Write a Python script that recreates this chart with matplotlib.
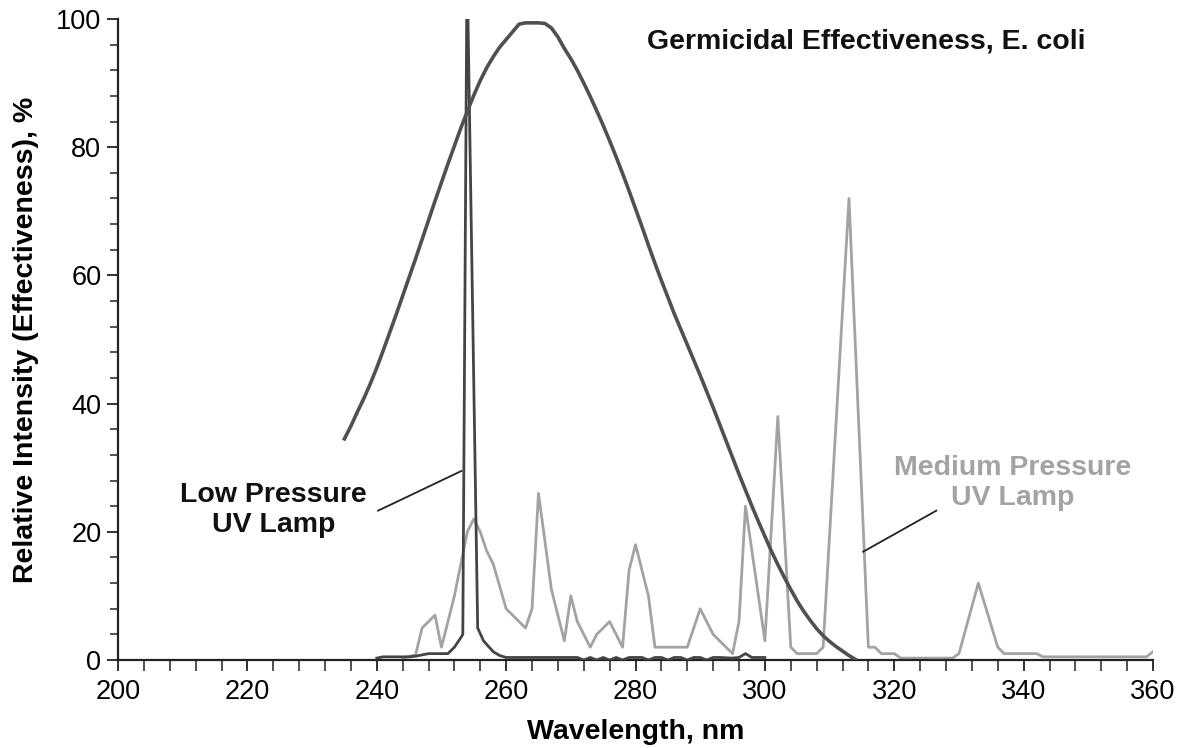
import numpy as np
import matplotlib.pyplot as plt
from matplotlib.ticker import MultipleLocator

plt.rcParams['font.family'] = ['Liberation Sans', 'DejaVu Sans']

# germicidal effectiveness for E. coli (%)
GERM_NM = list(range(235, 315))
GERM_VAL = [34.5, 36.5, 38.7, 40.8, 43.1, 45.6, 48.3, 51.1, 53.9, 56.8,
            59.7, 62.6, 65.6, 68.6, 71.6, 74.5, 77.4, 80.2, 83.0, 85.6,
            88.1, 90.4, 92.4, 94.1, 95.6, 96.8, 98.0, 99.2, 99.4, 99.4,
            99.4, 99.3, 98.6, 97.2, 95.4, 93.8, 92.0, 90.0, 87.9, 85.7,
            83.4, 81.0, 78.5, 75.9, 73.2, 70.4, 67.6, 64.7, 61.9, 59.2,
            56.6, 54.0, 51.6, 49.2, 46.8, 44.4, 41.9, 39.4, 36.8, 34.2,
            31.6, 29.0, 26.5, 24.0, 21.6, 19.3, 17.0, 14.9, 12.9, 11.0,
            9.2, 7.6, 6.2, 4.9, 3.8, 2.9, 2.1, 1.4, 0.7, 0.1]

# low pressure lamp spectrum
LOW_NM = [240, 241, 245, 246, 248, 251, 252, 253, 253.3, 253.9, 254.1, 255.6, 256.5,
          258, 259, 260, 271, 272, 273, 274, 275, 276, 277, 278, 279, 280, 281,
          282, 283, 284, 285, 286, 287, 288, 289, 290, 291, 292, 293, 295, 296,
          297, 298, 300]
LOW_VAL = [0.3, 0.5, 0.5, 0.6, 1.0, 1.0, 2.0, 3.5, 4.0, 100, 100, 5.0, 3.0,
           1.3, 0.7, 0.4, 0.4, 0.0, 0.4, 0.0, 0.4, 0.0, 0.4, 0.0, 0.4, 0.4, 0.4,
           0.0, 0.4, 0.4, 0.0, 0.4, 0.4, 0.0, 0.4, 0.4, 0.0, 0.4, 0.4, 0.3, 0.4,
           1.0, 0.4, 0.4]

# medium pressure lamp spectrum
MED_NM = [244, 246, 247, 249, 250, 252, 254, 255, 256, 257, 258, 260, 263, 264,
          265, 267, 269, 270, 271, 273, 274, 276, 278, 279, 280, 282, 283, 288,
          290, 292, 295, 296, 297, 298, 299, 300, 302, 304, 305, 308, 309, 313,
          316, 317, 318, 320, 321, 329, 330, 333, 336, 337, 342, 343, 359, 360]
MED_VAL = [0.3, 0.8, 5, 7, 2, 10, 20, 22, 20, 17, 15, 8, 5, 8,
           26, 11, 3, 10, 6, 2, 4, 6, 2, 14, 18, 10, 2, 2,
           8, 4, 1, 6, 24, 17, 10, 3, 38, 2, 1, 1, 2, 72,
           2, 2, 1, 1, 0.3, 0.3, 1, 12, 2, 1, 1, 0.5, 0.5, 1.3]

fig = plt.figure(figsize=(11.85, 7.48), dpi=100)
ax = fig.add_axes([0.0996, 0.1176, 0.8734, 0.857])

ax.plot(MED_NM, MED_VAL, color='#a3a3a3', lw=2.0, zorder=2)
ax.plot(LOW_NM, LOW_VAL, color='#444444', lw=2.0, zorder=3)
ax.plot(GERM_NM, GERM_VAL, color='#505050', lw=2.6, zorder=4)

# leader lines for the lamp labels
ax.plot([240.2, 253.1], [23.3, 29.5], color='#222222', lw=1.3)
ax.plot([315.2, 326.5], [16.9, 23.3], color='#222222', lw=1.3)

ax.text(224, 23.4, 'Low Pressure\nUV Lamp', ha='center', va='center',
        fontsize=20.5, fontweight='bold', color='#111111', linespacing=1.18)
ax.text(338.3, 27.6, 'Medium Pressure\nUV Lamp', ha='center', va='center',
        fontsize=20.5, fontweight='bold', color='#a3a3a3', linespacing=1.18)
ax.text(315.6, 96.5, 'Germicidal Effectiveness, E. coli', ha='center', va='center',
        fontsize=20.5, fontweight='bold', color='#111111')

ax.set_xlim(200, 360)
ax.set_ylim(0, 100)
ax.xaxis.set_major_locator(MultipleLocator(20))
ax.xaxis.set_minor_locator(MultipleLocator(4))
ax.yaxis.set_major_locator(MultipleLocator(20))
ax.yaxis.set_minor_locator(MultipleLocator(4))

for side in ['top', 'right']:
    ax.spines[side].set_visible(False)
for side in ['left', 'bottom']:
    ax.spines[side].set_linewidth(1.6)
    ax.spines[side].set_color('#222222')

ax.tick_params(which='major', direction='out', length=8, width=1.3,
               labelsize=19.5, color='#222222', pad=4)
ax.tick_params(which='minor', direction='out', length=6, width=1.1, color='#222222')
ax.tick_params(axis='x', which='both', length=8, pad=6)

ax.set_xlabel('Wavelength, nm', fontsize=20.5, fontweight='bold', labelpad=10)
ax.set_ylabel('Relative Intensity (Effectiveness), %', fontsize=20.5,
              fontweight='bold', labelpad=12)

fig.savefig('out.png', dpi=100)
